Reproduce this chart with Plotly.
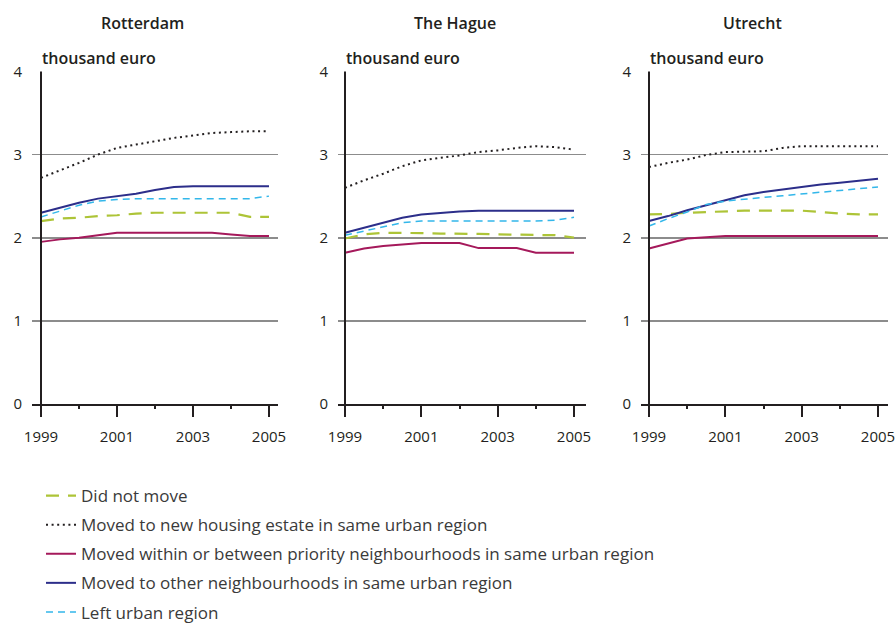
import plotly.graph_objects as go

W, H = 895, 625

YEARS = [1999, 1999.5, 2000, 2000.5, 2001, 2001.5, 2002, 2002.5, 2003, 2003.5, 2004, 2004.5, 2005]
CITIES = ["Rotterdam", "The Hague", "Utrecht"]
SERIES = [
    "Did not move",
    "Moved to new housing estate in same urban region",
    "Moved within or between priority neighbourhoods in same urban region",
    "Moved to other neighbourhoods in same urban region",
    "Left urban region",
]
X_TICKS = [1999, 2001, 2003, 2005]
X_MINOR = [2000, 2002, 2004]
Y_TICKS = [0, 1, 2, 3, 4]

# Rotterdam
did_not_move_rot = [2.20, 2.23, 2.24, 2.26, 2.27, 2.29, 2.30, 2.30, 2.30, 2.30, 2.30, 2.25, 2.25]
new_estate_rot = [2.72, 2.81, 2.90, 3.00, 3.08, 3.12, 3.16, 3.20, 3.23, 3.26, 3.27, 3.28, 3.28]
priority_rot = [1.95, 1.98, 2.00, 2.03, 2.06, 2.06, 2.06, 2.06, 2.06, 2.06, 2.04, 2.02, 2.02]
other_rot = [2.30, 2.36, 2.42, 2.47, 2.50, 2.53, 2.575, 2.61, 2.62, 2.62, 2.62, 2.62, 2.62]
left_rot = [2.25, 2.32, 2.39, 2.44, 2.46, 2.47, 2.47, 2.47, 2.47, 2.47, 2.47, 2.47, 2.50]

# The Hague
did_not_move_hag = [1.99, 2.04, 2.06, 2.06, 2.055, 2.05, 2.05, 2.045, 2.04, 2.035, 2.03, 2.03, 2.00]
new_estate_hag = [2.60, 2.69, 2.77, 2.86, 2.93, 2.96, 2.99, 3.03, 3.05, 3.08, 3.10, 3.09, 3.06]
priority_hag = [1.82, 1.87, 1.90, 1.92, 1.935, 1.935, 1.935, 1.875, 1.875, 1.875, 1.82, 1.82, 1.82]
other_hag = [2.06, 2.12, 2.18, 2.24, 2.28, 2.30, 2.315, 2.325, 2.325, 2.325, 2.325, 2.325, 2.325]
left_hag = [2.03, 2.08, 2.13, 2.18, 2.20, 2.20, 2.20, 2.20, 2.20, 2.20, 2.20, 2.21, 2.245]

# Utrecht
did_not_move_utr = [2.28, 2.285, 2.30, 2.31, 2.32, 2.325, 2.325, 2.325, 2.325, 2.31, 2.29, 2.28, 2.28]
new_estate_utr = [2.85, 2.90, 2.94, 2.995, 3.03, 3.035, 3.04, 3.08, 3.10, 3.10, 3.10, 3.10, 3.10]
priority_utr = [1.87, 1.93, 1.99, 2.005, 2.02, 2.02, 2.02, 2.02, 2.02, 2.02, 2.02, 2.02, 2.02]
other_utr = [2.20, 2.26, 2.33, 2.39, 2.45, 2.51, 2.55, 2.58, 2.61, 2.64, 2.66, 2.685, 2.71]
left_utr = [2.14, 2.23, 2.31, 2.40, 2.44, 2.465, 2.485, 2.505, 2.525, 2.545, 2.565, 2.59, 2.61]

DATA = [
    [did_not_move_rot, new_estate_rot, priority_rot, other_rot, left_rot],
    [did_not_move_hag, new_estate_hag, priority_hag, other_hag, left_hag],
    [did_not_move_utr, new_estate_utr, priority_utr, other_utr, left_utr],
]

STYLES = [
    dict(color="#adc437", width=2.2, dash="13px,9px"),
    dict(color="#231f20", width=2.0, dash="2px,3.6px"),
    dict(color="#a5195b", width=2.0, dash="solid"),
    dict(color="#2c2e8a", width=2.0, dash="solid"),
    dict(color="#33b7ea", width=1.5, dash="7px,5px"),
]

FONT = "Open Sans"
DARK = "#231f20"

# panel geometry in screen pixels: (plot left, plot right, pixel of 1999, pixel of 2005)
PANELS = [(32, 278, 41, 269), (338, 586, 345, 574), (641, 888, 649, 878)]
TITLE_X = [142, 455, 752]
Y_TOP_PX, Y_BOT_PX = 71, 404


def px_x(p):
    return p / W


def px_y(p):
    return 1 - p / H


fig = go.Figure()
layout = dict(
    width=W, height=H,
    margin=dict(l=0, r=0, t=0, b=0, autoexpand=False),
    paper_bgcolor="white", plot_bgcolor="white",
    font=dict(family=FONT, color=DARK, size=14),
    showlegend=True,
    legend=dict(
        x=px_x(41), xanchor="left", y=px_y(478), yanchor="top",
        font=dict(family=FONT, size=17, color="#3a3a3a"),
        tracegroupgap=4, bgcolor="rgba(0,0,0,0)",
    ),
)

annotations = []
shapes = []
for i, city in enumerate(CITIES):
    l, r, p0, p1 = PANELS[i]
    ppy = (p1 - p0) / 6.0
    x0 = 1999 - (p0 - l) / ppy
    x1 = 2005 + (r - p1) / ppy
    xa = "xaxis" if i == 0 else f"xaxis{i+1}"
    ya = "yaxis" if i == 0 else f"yaxis{i+1}"
    xr = "x" if i == 0 else f"x{i+1}"
    yr = "y" if i == 0 else f"y{i+1}"
    layout[xa] = dict(
        domain=[px_x(l), px_x(r)], range=[x0, x1], anchor=yr, automargin=False,
        showgrid=False, zeroline=False,
        showline=True, linecolor=DARK, linewidth=2,
        tickmode="array", tickvals=X_TICKS, ticktext=[str(v) for v in X_TICKS],
        ticks="outside", ticklen=11, tickwidth=2, tickcolor=DARK,
        minor=dict(tickmode="array", tickvals=X_MINOR, ticks="outside", ticklen=3,
                   tickwidth=2, tickcolor=DARK, showgrid=False),
        tickfont=dict(size=15, color=DARK), ticklabelstandoff=7,
        ticklabeloverflow="allow",
        fixedrange=True,
    )
    layout[ya] = dict(
        domain=[px_y(Y_BOT_PX), px_y(Y_TOP_PX)], range=[0, 4.005], anchor=xr,
        automargin=False,
        showgrid=True, gridcolor="#8c8c8c", gridwidth=1.6, zeroline=False,
        showline=False, tickmode="array", tickvals=Y_TICKS,
        ticks="", tickfont=dict(size=15, color=DARK), ticklabelstandoff=9,
        fixedrange=True,
    )
    for k, name in enumerate(SERIES):
        st = STYLES[k]
        fig.add_trace(go.Scatter(
            x=YEARS, y=DATA[i][k], mode="lines", name=name,
            line=dict(color=st["color"], width=st["width"], dash=st["dash"]),
            xaxis=xr, yaxis=yr, legendgroup=f"s{k}", showlegend=(i == 0),
            hoverinfo="skip",
        ))
    # vertical y-axis line at 1999
    shapes.append(dict(type="line", xref=xr, yref=yr, x0=1999, x1=1999, y0=0, y1=4,
                       line=dict(color=DARK, width=2), layer="above"))
    annotations.append(dict(text=city, x=px_x(TITLE_X[i]), y=px_y(23),
                            xref="paper", yref="paper", showarrow=False,
                            xanchor="center", yanchor="middle",
                            font=dict(family=FONT, size=16, color=DARK, weight=600)))
    annotations.append(dict(text="thousand euro", x=px_x(p0 - 1), y=px_y(58),
                            xref="paper", yref="paper", showarrow=False,
                            xanchor="left", yanchor="middle",
                            font=dict(family=FONT, size=16, color=DARK, weight=600)))

layout["annotations"] = annotations
layout["shapes"] = shapes
fig.update_layout(**layout)
fig.write_html(
    "out.html",
    config=dict(displayModeBar=False, staticPlot=True),
    post_script="document.body.style.margin='0';document.body.style.overflow='hidden';",
)
